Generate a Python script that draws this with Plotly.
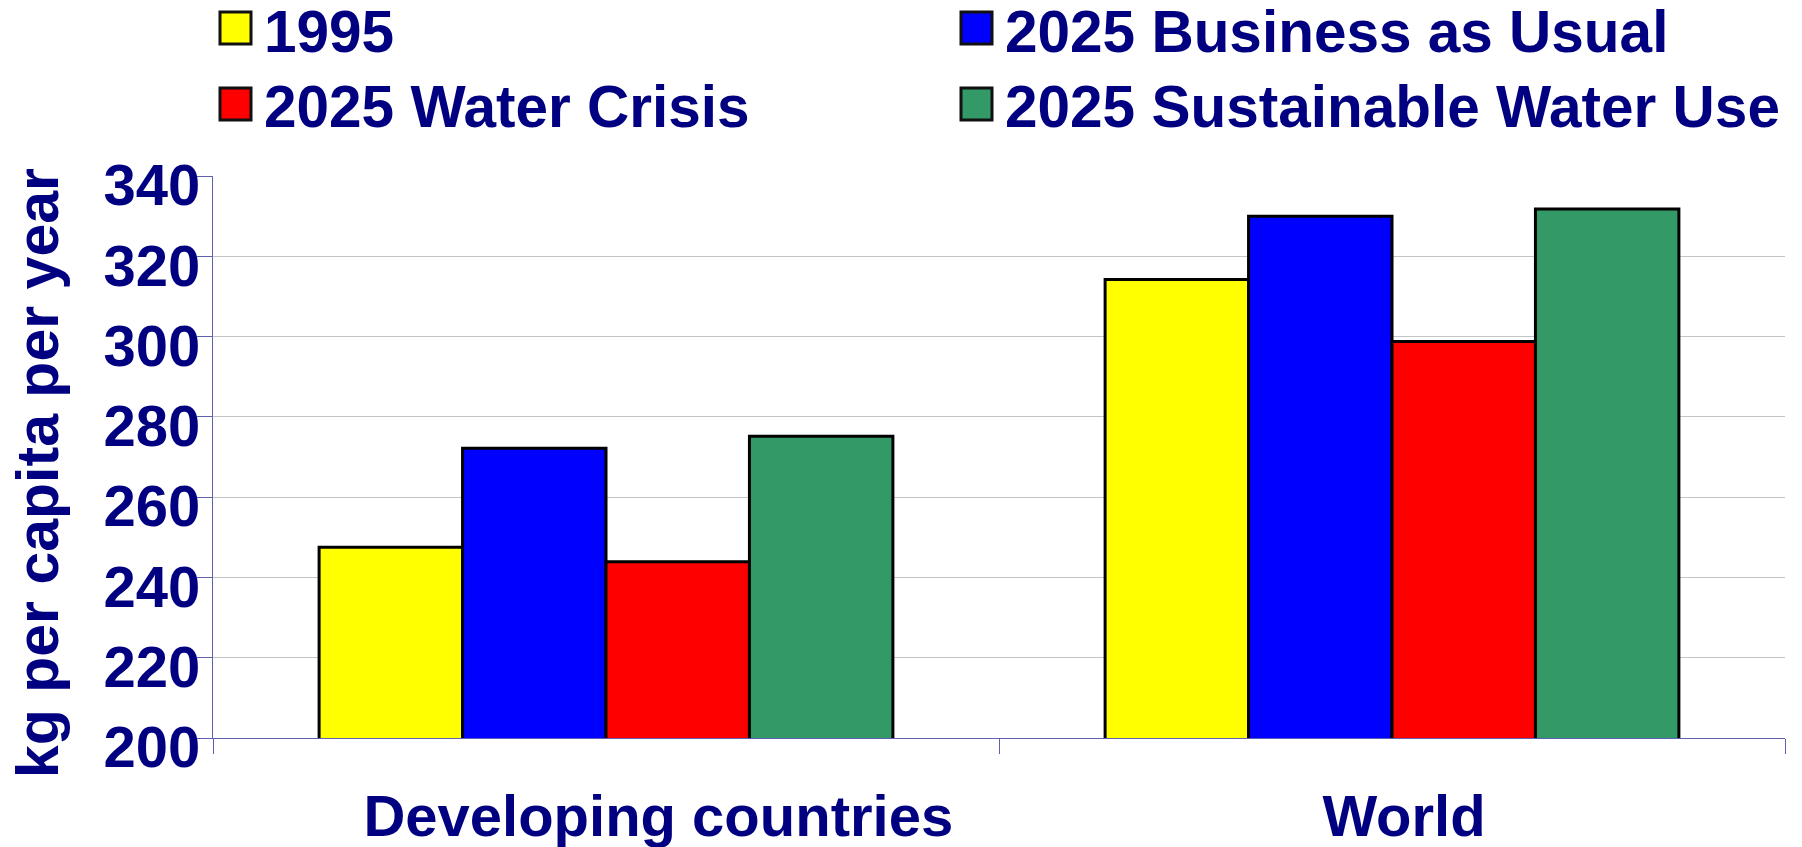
import plotly.graph_objects as go

# ---- data ----
categories = ["Developing countries", "World"]
series_names = ["1995", "2025 Business as Usual", "2025 Water Crisis", "2025 Sustainable Water Use"]
values_1995 = [247.5, 314.2]
values_bau = [272.2, 330.0]
values_crisis = [243.9, 298.8]
values_sustainable = [275.2, 331.8]
y_ticks = [200, 220, 240, 260, 280, 300, 320, 340]
y_title = "kg per capita per year"

series_values = [values_1995, values_bau, values_crisis, values_sustainable]
colors = ["#FFFF00", "#0000FF", "#FF0000", "#339966"]

NAVY = "#000080"
FONT = "Liberation Sans, Arial, sans-serif"
NB = "\u00a0"
W, H = 1802, 847
ML, MR, MT, MB = 213, 17, 176, 109
PW, PH = W - ML - MR, H - MT - MB


def px_x(x):
    return (x - ML) / PW


def px_y(y):
    return (H - MB - y) / PH


fig = go.Figure()
for name, vals, col in zip(series_names, series_values, colors):
    fig.add_trace(go.Bar(
        x=categories, y=vals, name=name,
        marker=dict(color=col, line=dict(color="#000000", width=3)),
        showlegend=False,
    ))

# manual legend (2 x 2 grid) with large swatches
legend_pos = [(220, 12), (961, 12), (220, 88), (961, 88)]
shapes = []
annotations = []
for (lx, ly), name, col in zip(legend_pos, series_names, colors):
    shapes.append(dict(type="rect", xref="paper", yref="paper",
                       x0=px_x(lx), x1=px_x(lx + 31), y0=px_y(ly + 32), y1=px_y(ly),
                       fillcolor=col, line=dict(color="#111111", width=3)))
    annotations.append(dict(xref="paper", yref="paper", x=px_x(lx + 42), y=px_y(ly + 19),
                            xanchor="left", yanchor="middle", showarrow=False,
                            text=name,
                            font=dict(family=FONT, size=58.5, color=NAVY, weight="bold")))

# y-axis title, placed as a rotated text left of the tick labels
annotations.append(dict(xref="paper", yref="paper", x=px_x(38), y=px_y(473),
                        xanchor="center", yanchor="middle", showarrow=False,
                        textangle=-90, text=y_title,
                        font=dict(family=FONT, size=59, color=NAVY, weight="bold")))

fig.update_layout(
    width=W, height=H,
    margin=dict(l=ML, r=MR, t=MT, b=MB, autoexpand=False),
    paper_bgcolor="white", plot_bgcolor="white",
    barmode="group", bargap=0.27, bargroupgap=0,
    showlegend=False,
    shapes=shapes, annotations=annotations,
    font=dict(family=FONT, color=NAVY),
)
fig.update_xaxes(
    tickmode="array", tickvals=categories,
    ticktext=[NB * 5 + categories[0], categories[1]],
    showline=True, linecolor="#6060b0", linewidth=1,
    ticks="outside", tickson="boundaries", ticklen=15, tickcolor="#6060b0", tickwidth=1,
    showgrid=False, ticklabelstandoff=27, ticklabelshift=12,
    tickfont=dict(family=FONT, size=58, color=NAVY, weight="bold"),
)
fig.update_yaxes(
    range=[200, 340], tickvals=y_ticks,
    showline=True, linecolor="#6060b0", linewidth=1,
    ticks="outside", ticklen=15, tickcolor="#6060b0", tickwidth=1,
    showgrid=True, gridcolor="#c4c4c4", gridwidth=1,
    zeroline=False, ticklabelstandoff=-15, ticklabelshift=9,
    tickfont=dict(family=FONT, size=58, color=NAVY, weight="bold"),
)

fig.write_html("out.html")
